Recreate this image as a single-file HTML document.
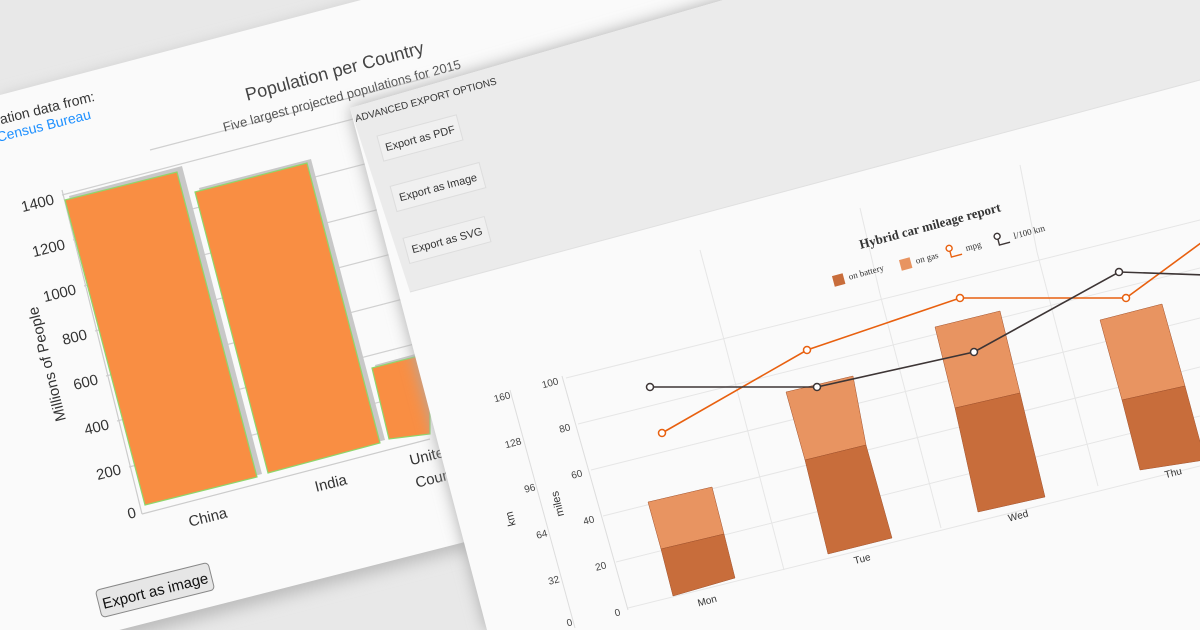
<!DOCTYPE html>
<html><head><meta charset="utf-8"><style>
html,body{margin:0;padding:0;background:#e8e8e8;}
svg{display:block;font-family:"Liberation Sans",sans-serif;}
</style></head><body>
<svg width="1200" height="630" viewBox="0 0 1200 630" xmlns="http://www.w3.org/2000/svg">
<defs>
<filter id="sh" x="-20%" y="-20%" width="140%" height="140%"><feGaussianBlur stdDeviation="8"/></filter>
</defs>
<rect width="1200" height="630" fill="#e8e8e8"/>
<polygon points="0,100 380,0 820,0 480,545 80,650 0,650" fill="#bbb" filter="url(#sh)"/>
<polygon points="0,95 380,-5 820,-5 465,542 80,640 0,640" fill="#fafafa"/>
<g stroke="#d0d0d0" stroke-width="1.2">
<line x1="62" y1="195" x2="430" y2="99"/>
<line x1="73" y1="240" x2="430" y2="147"/>
<line x1="84" y1="286" x2="430" y2="196"/>
<line x1="95" y1="331" x2="430" y2="244"/>
<line x1="106" y1="376" x2="430" y2="292"/>
<line x1="117" y1="421" x2="430" y2="340"/>
<line x1="129" y1="467" x2="430" y2="389"/>
<line x1="150" y1="150" x2="430" y2="77"/>
</g>
<line x1="62" y1="190" x2="142" y2="514" stroke="#ccc" stroke-width="1.2"/>
<line x1="142" y1="514" x2="430" y2="439" stroke="#ccc" stroke-width="1.2"/>
<polygon points="69,196 182,166 262,474 149,503" fill="#c8c8c8"/>
<polygon points="65,200 177,172 257,477 145,505" fill="#f98e43" stroke="#8fd66c" stroke-width="1.2"/>
<polygon points="199,188 311,159 385,440 272,470" fill="#c8c8c8"/>
<polygon points="195,192 307,163 380,443 268,473" fill="#f98e43" stroke="#8fd66c" stroke-width="1.2"/>
<polygon points="375,365 430,350 430,432 392,437" fill="#c8c8c8"/>
<polygon points="372,368 430,353 430,434 389,439" fill="#f98e43" stroke="#8fd66c" stroke-width="1.2"/>
<g fill="#333" font-size="15" text-anchor="end">
<text transform="translate(55,204) rotate(-14)">1400</text>
<text transform="translate(66,249) rotate(-14)">1200</text>
<text transform="translate(77,294) rotate(-14)">1000</text>
<text transform="translate(88,339) rotate(-14)">800</text>
<text transform="translate(99,384) rotate(-14)">600</text>
<text transform="translate(110,429) rotate(-14)">400</text>
<text transform="translate(122,474) rotate(-14)">200</text>
<text transform="translate(137,517) rotate(-14)">0</text>
</g>
<text transform="translate(66,420) rotate(-104)" font-size="15" fill="#333">Millions of People</text>
<g fill="#333" font-size="15" text-anchor="middle">
<text transform="translate(209,522) rotate(-14)">China</text>
<text transform="translate(332,488) rotate(-14)">India</text>
<text transform="translate(432,460) rotate(-14)">United</text>
<text transform="translate(448,480) rotate(-14)">Countries</text>
</g>
<text transform="translate(336,77) rotate(-15)" font-size="18" fill="#444" text-anchor="middle">Population per Country</text>
<text transform="translate(343,100) rotate(-15)" font-size="13" fill="#555" text-anchor="middle">Five largest projected populations for 2015</text>
<text transform="translate(-2,125) rotate(-14)" font-size="14" fill="#333">lation data from:</text>
<text transform="translate(-2,142) rotate(-14)" font-size="14" fill="#1e90ff">Census Bureau</text>
<g transform="translate(155,590) rotate(-14)">
<rect x="-58" y="-14" width="116" height="28" rx="4" fill="#e6e6e6" stroke="#888"/>
<text x="0" y="6" font-size="15" fill="#111" text-anchor="middle">Export as image</text>
</g>
<polygon points="350,108 1200,-138 1200,630 487,630" fill="#aaa" filter="url(#sh)"/>
<polygon points="350,108 1200,-138 1200,630 487,630" fill="#fafafa"/>
<polygon points="350,108 1200,-138 1200,80 410,292" fill="#ebebeb"/>
<line x1="410" y1="292" x2="1200" y2="80" stroke="#e0e0e0"/>
<text transform="translate(356,122) rotate(-15)" font-size="10" fill="#333">ADVANCED EXPORT OPTIONS</text>
<g font-size="11" fill="#333" text-anchor="middle">
<g transform="translate(420,138) rotate(-15)"><rect x="-41" y="-13" width="82" height="26" fill="#f0f0f0" stroke="#ddd"/><text y="4">Export as PDF</text></g>
<g transform="translate(438,187) rotate(-15)"><rect x="-46" y="-13" width="92" height="26" fill="#f0f0f0" stroke="#ddd"/><text y="4">Export as Image</text></g>
<g transform="translate(447,240) rotate(-15)"><rect x="-42" y="-13" width="84" height="26" fill="#f0f0f0" stroke="#ddd"/><text y="4">Export as SVG</text></g>
</g>
<g stroke="#e6e6e6" stroke-width="1">
<line x1="566" y1="378" x2="1200" y2="220"/>
<line x1="578" y1="424" x2="1200" y2="268"/>
<line x1="591" y1="470" x2="1200" y2="318"/>
<line x1="603" y1="516" x2="1200" y2="367"/>
<line x1="616" y1="562" x2="1200" y2="416"/>
<line x1="628" y1="608" x2="1200" y2="466"/>
<line x1="723" y1="336" x2="784" y2="570"/>
<line x1="880" y1="294" x2="941" y2="528"/>
<line x1="1037" y1="252" x2="1098" y2="486"/>
<line x1="700" y1="250" x2="723" y2="336"/>
<line x1="860" y1="208" x2="880" y2="294"/>
<line x1="1020" y1="165" x2="1037" y2="252"/>
<line x1="510" y1="390" x2="575" y2="628" stroke="#ddd"/>
<line x1="562" y1="376" x2="628" y2="610" stroke="#ddd"/>
</g>
<g stroke="#a0522d" stroke-width="0.5">
<polygon points="648,502 712,487 724,534 661,549" fill="#e89461"/>
<polygon points="661,549 724,534 735,578 673,596" fill="#c86d3b"/>
<polygon points="786,392 853,376 866,445 805,460" fill="#e89461"/>
<polygon points="805,460 866,445 892,538 828,554" fill="#c86d3b"/>
<polygon points="935,327 1000,311 1020,393 955,408" fill="#e89461"/>
<polygon points="955,408 1020,393 1045,497 978,512" fill="#c86d3b"/>
<polygon points="1100,320 1162,304 1185,386 1122,400" fill="#e89461"/>
<polygon points="1122,400 1185,386 1205,460 1140,470" fill="#c86d3b"/>
</g>
<polyline points="662,433 807,350 960,298 1126,298 1205,240" fill="none" stroke="#e8600f" stroke-width="1.6"/>
<polyline points="650,387 817,387 974,352 1119,272 1205,275" fill="none" stroke="#3d3535" stroke-width="1.6"/>
<g fill="#fff" stroke="#e8600f" stroke-width="1.5">
<circle cx="662" cy="433" r="3.5"/><circle cx="807" cy="350" r="3.5"/><circle cx="960" cy="298" r="3.5"/><circle cx="1126" cy="298" r="3.5"/>
</g>
<g fill="#fff" stroke="#3d3535" stroke-width="1.5">
<circle cx="650" cy="387" r="3.5"/><circle cx="817" cy="387" r="3.5"/><circle cx="974" cy="352" r="3.5"/><circle cx="1119" cy="272" r="3.5"/>
</g>
<g font-size="10" fill="#444" text-anchor="end">
<text transform="translate(511,398) rotate(-15)">160</text>
<text transform="translate(522,444) rotate(-15)">128</text>
<text transform="translate(536,490) rotate(-15)">96</text>
<text transform="translate(548,536) rotate(-15)">64</text>
<text transform="translate(560,582) rotate(-15)">32</text>
<text transform="translate(573,625) rotate(-15)">0</text>
<text transform="translate(559,384) rotate(-15)">100</text>
<text transform="translate(571,430) rotate(-15)">80</text>
<text transform="translate(583,476) rotate(-15)">60</text>
<text transform="translate(595,522) rotate(-15)">40</text>
<text transform="translate(607,568) rotate(-15)">20</text>
<text transform="translate(621,615) rotate(-15)">0</text>
</g>
<text transform="translate(514,518) rotate(-104)" font-size="11" fill="#333" text-anchor="middle">km</text>
<text transform="translate(561,503) rotate(-104)" font-size="11" fill="#333" text-anchor="middle">miles</text>
<g font-size="10" fill="#333" text-anchor="middle">
<text transform="translate(708,604) rotate(-15)">Mon</text>
<text transform="translate(863,562) rotate(-15)">Tue</text>
<text transform="translate(1019,519) rotate(-15)">Wed</text>
<text transform="translate(1174,476) rotate(-15)">Thu</text>
</g>
<text transform="translate(931,230) rotate(-15)" font-family="Liberation Serif,serif" font-weight="bold" font-size="13" fill="#333" text-anchor="middle">Hybrid car mileage report</text>
<g font-family="Liberation Serif,serif" font-size="9" fill="#333">
<g transform="translate(833,280) rotate(-15)"><rect x="0" y="-4" width="11" height="11" fill="#c86d3b"/><text x="16" y="4">on battery</text></g>
<g transform="translate(900,264) rotate(-15)"><rect x="0" y="-4" width="11" height="11" fill="#e89461"/><text x="16" y="4">on gas</text></g>
<g transform="translate(947,252) rotate(-15)"><circle cx="3" cy="-3" r="3" fill="#fff" stroke="#e8600f" stroke-width="1.4"/><polyline points="3,0 3,6 14,6" fill="none" stroke="#e8600f" stroke-width="1.4"/><text x="19" y="4">mpg</text></g>
<g transform="translate(995,240) rotate(-15)"><circle cx="3" cy="-3" r="3" fill="#fff" stroke="#3d3535" stroke-width="1.4"/><polyline points="3,0 3,6 14,6" fill="none" stroke="#3d3535" stroke-width="1.4"/><text x="19" y="4">l/100 km</text></g>
</g>
</svg>
</body></html>
